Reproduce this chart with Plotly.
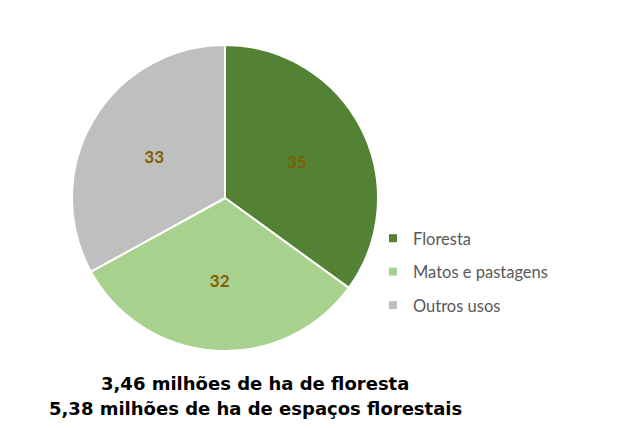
import plotly.graph_objects as go

categories = ["Floresta", "Matos e pastagens", "Outros usos"]
values = [35, 32, 33]
colors = ["#548235", "#A9D18E", "#BFBFBF"]
footer_lines = ["3,46 milhões de ha de floresta", "5,38 milhões de ha de espaços florestais"]

W, H = 640, 428
cx, cy, r = 217, 190, 153

fig = go.Figure()
fig.add_trace(go.Pie(
    labels=categories, values=values, sort=False, direction="clockwise", rotation=0,
    marker=dict(colors=colors, line=dict(color="white", width=2)),
    textinfo="value", textposition="inside", insidetextorientation="horizontal",
    textfont=dict(family="Lato", size=17, color="#7F6000", weight="bold"),
    domain=dict(x=[(cx - r) / W, (cx + r) / W], y=[(H - cy - r) / H, (H - cy + r) / H]),
    showlegend=False, hoverinfo="label+value",
))
for i, (cat, col) in enumerate(zip(categories, colors)):
    fig.add_trace(go.Scatter(
        x=[None], y=[None], mode="markers", name=cat, legendgroup=f"g{i}",
        marker=dict(symbol="square", size=8, color=col), showlegend=True,
    ))

for line, ypix in zip(footer_lines, [375, 400]):
    fig.add_annotation(
        x=247 / W, y=(H - ypix) / H, xref="paper", yref="paper", showarrow=False,
        xanchor="center", yanchor="middle", text=line,
        font=dict(family="DejaVu Sans", size=18, color="black", weight="bold"),
    )

fig.update_layout(
    width=W, height=H, margin=dict(l=0, r=0, t=0, b=0),
    paper_bgcolor="white", plot_bgcolor="white",
    xaxis=dict(visible=False), yaxis=dict(visible=False),
    legend=dict(x=365 / W, y=(H - 213) / H, xanchor="left", yanchor="top",
                tracegroupgap=9, font=dict(family="Lato", size=16.5, color="#595959"),
                bgcolor="rgba(0,0,0,0)"),
)
fig.write_html("out.html")
